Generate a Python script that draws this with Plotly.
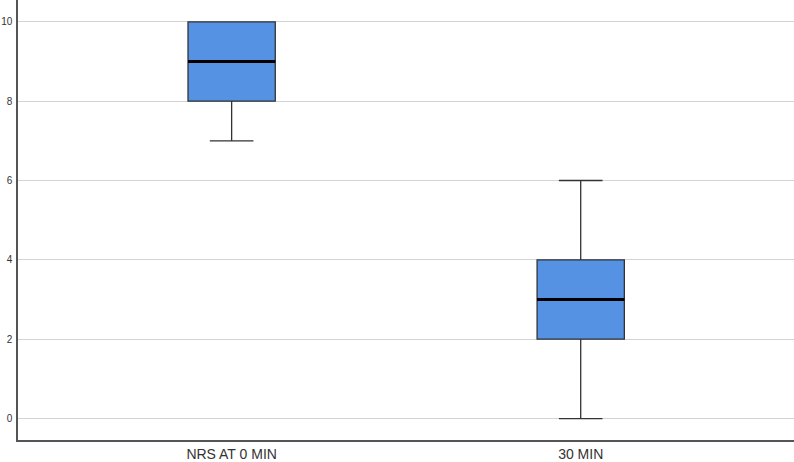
import plotly.graph_objects as go

categories = ["NRS AT 0 MIN", "30 MIN"]
lower_whisker = [7, 0]
q1_vals = [8, 2]
medians = [9, 3]
q3_vals = [10, 4]
upper_whisker = [10, 6]
y_ticks = [0, 2, 4, 6, 8, 10]

positions = list(range(len(categories)))
box_w = 0.25

fig = go.Figure()
for i, cat in enumerate(categories):
    fig.add_trace(go.Box(
        x=[positions[i]],
        q1=[q1_vals[i]], median=[medians[i]], q3=[q3_vals[i]],
        lowerfence=[lower_whisker[i]], upperfence=[upper_whisker[i]],
        width=box_w, whiskerwidth=0.5,
        fillcolor="#5592e3",
        line=dict(color="#333333", width=1.3),
        boxpoints=False, hoverinfo="skip", showlegend=False,
    ))
    fig.add_trace(go.Scatter(
        x=[positions[i] - box_w / 2, positions[i] + box_w / 2],
        y=[medians[i], medians[i]],
        mode="lines", line=dict(color="#000000", width=3),
        hoverinfo="skip", showlegend=False,
    ))

fig.update_layout(
    width=794, height=462,
    margin=dict(l=18, r=0, t=0, b=22, autoexpand=False),
    paper_bgcolor="white", plot_bgcolor="white",
    font=dict(family="Liberation Sans, Arial, sans-serif", color="#222222"),
    xaxis=dict(
        range=[-0.612, 1.611],
        tickmode="array", tickvals=positions, ticktext=categories,
        tickfont=dict(size=14, color="#333333"),
        showgrid=False, zeroline=False,
        showline=True, linecolor="#555555", linewidth=1.5,
        ticks="", fixedrange=True, ticklabelstandoff=0, automargin=False,
    ),
    yaxis=dict(
        range=[-0.54, 10.55],
        tickmode="array", tickvals=y_ticks,
        tickfont=dict(size=10, color="#333333"),
        showgrid=True, gridcolor="#d4d4d4", gridwidth=1,
        zeroline=False, automargin=False,
        showline=True, linecolor="#555555", linewidth=1.5,
        ticks="", ticklabelstandoff=2,
    ),
)

fig.write_html("out.html")
